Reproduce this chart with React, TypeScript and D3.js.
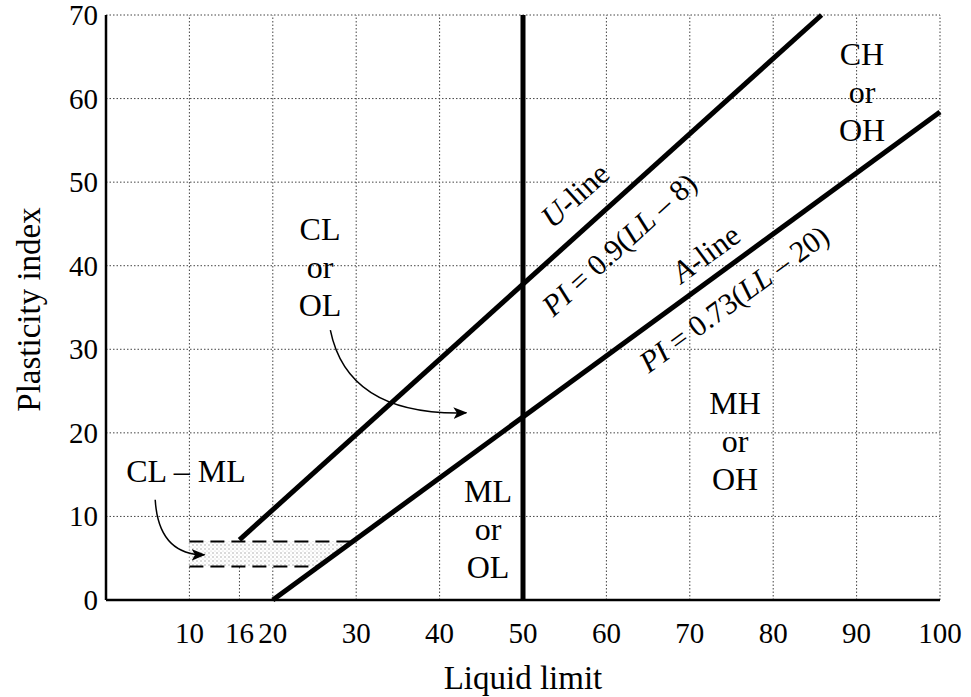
import React from "react";
import * as d3 from "d3";

const xTicks = [10, 16, 20, 30, 40, 50, 60, 70, 80, 90, 100];
const yTicks = [0, 10, 20, 30, 40, 50, 60, 70];
const gridX = [10, 20, 30, 40, 50, 60, 70, 80, 90, 100];
const gridY = [10, 20, 30, 40, 50, 60, 70];
// U-line: PI = 0.9(LL - 8), from LL=16 to PI=70
const uLine = [[16, 7.2], [85.8, 70]];
// A-line: PI = 0.73(LL - 20), from LL=20 to LL=100
const aLine = [[20, 0], [100, 58.4]];
const llDivide = [[50, 0], [50, 70]];
const bandTop = 7;
const bandBottom = 4;
const bandStart = 10;

const FONT = "'Liberation Serif', 'DejaVu Serif', serif";

export default function App() {
  const x = d3.scaleLinear().domain([0, 100]).range([106, 940]);
  const y = d3.scaleLinear().domain([0, 70]).range([600, 15]);
  const line = d3.line<number[]>().x((d) => x(d[0])).y((d) => y(d[1]));

  const aAt = (pi: number) => pi / 0.73 + 20;
  const uAng = (-Math.atan((0.9 * (y(0) - y(1))) / (x(1) - x(0))) * 180) / Math.PI;
  const aAng = (-Math.atan((0.73 * (y(0) - y(1))) / (x(1) - x(0))) * 180) / Math.PI;

  const band = [
    [bandStart, bandTop],
    [aAt(bandTop), bandTop],
    [aAt(bandBottom), bandBottom],
    [bandStart, bandBottom],
  ];

  const curve1 = d3.path();
  curve1.moveTo(x(26.9), y(32.3));
  curve1.quadraticCurveTo(x(29), y(22), x(43.2), y(22.4));
  const curve2 = d3.path();
  curve2.moveTo(x(5.9), y(12));
  curve2.quadraticCurveTo(x(6.3), y(5.4), x(11.8), y(5.4));

  const block = (lines: string[], cx: number, cy: number, gap = 38) =>
    lines.map((t, i) => (
      <text key={t + i} x={cx} y={cy + i * gap} textAnchor="middle" fontSize={32} fontFamily={FONT}>
        {t}
      </text>
    ));

  return (
    <svg width={971} height={697} style={{ display: "block", position: "absolute", left: 0, top: 0 }}>
      <defs>
        <marker id="arr" viewBox="0 0 12 10" refX="11" refY="5" markerWidth="14" markerHeight="12" orient="auto" markerUnits="userSpaceOnUse">
          <path d="M0,0 L12,5 L0,10 L3,5 Z" fill="#000" />
        </marker>
        <pattern id="dots" width="4" height="4" patternUnits="userSpaceOnUse">
          <rect width="4" height="4" fill="#fff" />
          <circle cx="1" cy="1" r="0.7" fill="#999" />
          <circle cx="3" cy="3" r="0.5" fill="#bbb" />
        </pattern>
      </defs>
      <rect width={971} height={697} fill="#fff" />
      {/* grid */}
      {gridX.map((v) => (
        <line key={"gx" + v} x1={x(v)} x2={x(v)} y1={y(0)} y2={y(70)} stroke="#444" strokeWidth={1} strokeDasharray="1.5,2" />
      ))}
      <line x1={x(16)} x2={x(16)} y1={y(0)} y2={y(bandTop)} stroke="#444" strokeWidth={1} strokeDasharray="1.5,2" />
      {gridY.map((v) => (
        <line key={"gy" + v} x1={x(0)} x2={x(100)} y1={y(v)} y2={y(v)} stroke="#444" strokeWidth={1} strokeDasharray="1.5,2" />
      ))}
      {/* CL-ML band */}
      <path d={line(band as any) + "Z"} fill="url(#dots)" stroke="none" />
      <line x1={x(bandStart)} x2={x(aAt(bandTop))} y1={y(bandTop)} y2={y(bandTop)} stroke="#000" strokeWidth={2} strokeDasharray="14,7" />
      <line x1={x(bandStart)} x2={x(aAt(bandBottom))} y1={y(bandBottom)} y2={y(bandBottom)} stroke="#000" strokeWidth={2} strokeDasharray="14,7" />
      {/* axes */}
      <line x1={x(0)} x2={x(0)} y1={y(0)} y2={y(70)} stroke="#000" strokeWidth={2.5} />
      <line x1={x(0)} x2={x(100)} y1={y(0)} y2={y(0)} stroke="#000" strokeWidth={2.5} />
      {/* main lines */}
      <path d={line(uLine) || ""} stroke="#000" strokeWidth={5} fill="none" />
      <path d={line(aLine) || ""} stroke="#000" strokeWidth={5} fill="none" />
      <path d={line(llDivide) || ""} stroke="#000" strokeWidth={5} fill="none" />
      {/* ticks */}
      {xTicks.map((v) => (
        <text key={"xt" + v} x={x(v)} y={643} textAnchor="middle" fontSize={29} fontFamily={FONT}>
          {v}
        </text>
      ))}
      {yTicks.map((v) => (
        <text key={"yt" + v} x={98} y={y(v) + 10} textAnchor="end" fontSize={29} fontFamily={FONT}>
          {v}
        </text>
      ))}
      <text x={x(50)} y={689} textAnchor="middle" fontSize={33} fontFamily={FONT}>
        Liquid limit
      </text>
      <text transform={`translate(40,${y(35) + 2}) rotate(-90)`} textAnchor="middle" fontSize={33} fontFamily={FONT}>
        Plasticity index
      </text>
      {/* region labels */}
      {block(["CL", "or", "OL"], 320, 240)}
      {block(["CH", "or", "OH"], 862, 65)}
      {block(["MH", "or", "OH"], 735, 414)}
      {block(["ML", "or", "OL"], 488, 502)}
      <text x={186} y={482} textAnchor="middle" fontSize={32} fontFamily={FONT}>
        CL – ML
      </text>
      {/* arrows */}
      <path d={curve1.toString()} fill="none" stroke="#000" strokeWidth={1.5} markerEnd="url(#arr)" />
      <path d={curve2.toString()} fill="none" stroke="#000" strokeWidth={1.5} markerEnd="url(#arr)" />
      {/* line labels */}
      <text transform={`translate(582,203) rotate(${uAng})`} textAnchor="middle" fontSize={31} fontFamily={FONT}>
        <tspan fontStyle="italic">U</tspan>-line
      </text>
      <text transform={`translate(626,252) rotate(${uAng})`} textAnchor="middle" fontSize={30} fontFamily={FONT}>
        <tspan fontStyle="italic">PI</tspan> = 0.9(<tspan fontStyle="italic">LL</tspan> – 8)
      </text>
      <text transform={`translate(712,262) rotate(${aAng})`} textAnchor="middle" fontSize={31} fontFamily={FONT}>
        <tspan fontStyle="italic">A</tspan>-line
      </text>
      <text transform={`translate(740,307) rotate(${aAng})`} textAnchor="middle" fontSize={30} fontFamily={FONT}>
        <tspan fontStyle="italic">PI</tspan> = 0.73(<tspan fontStyle="italic">LL</tspan> – 20)
      </text>
    </svg>
  );
}
